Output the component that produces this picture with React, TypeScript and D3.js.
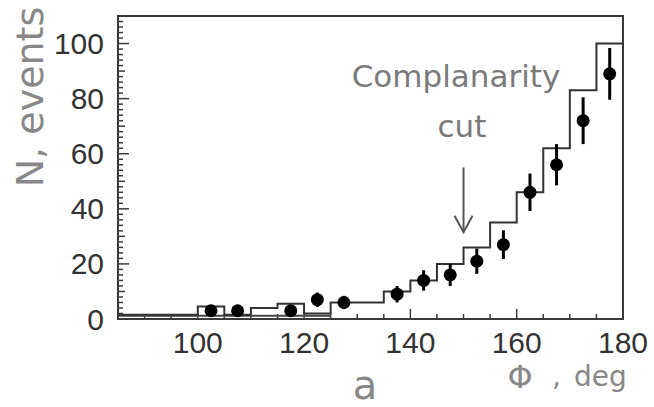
import * as d3 from 'd3';
import React from 'react';

// bin edges are 5 deg wide, from 85 to 180
const binEdges = [85, 90, 95, 100, 105, 110, 115, 120, 125, 130, 135, 140, 145, 150, 155, 160, 165, 170, 175, 180];
// simulated distribution (histogram line)
const histValues = [1.5, 1.5, 1.5, 4.5, 1.5, 4, 5.5, 2, 6, 6, 10, 14, 20, 26, 35, 46, 62, 83, 100];
// low background line near zero on the left side
const bgEdges = [85, 90, 95, 100, 105, 110, 115, 120, 125];
const bgValues = [1.2, 1.2, 1.2, 1.2, 1.2, 1.2, 1.2, 1.2];

// experimental points
const phiCenters = [102.5, 107.5, 117.5, 122.5, 127.5, 137.5, 142.5, 147.5, 152.5, 157.5, 162.5, 167.5, 172.5, 177.5];
const nEvents = [3, 3, 3, 7, 6, 9, 14, 16, 21, 27, 46, 56, 72, 89];
const nErrors = [1.7, 1.7, 1.7, 2.6, 2.4, 3, 3.7, 4, 4.6, 5.2, 6.8, 7.5, 8.5, 9.4];

const xTicks = [100, 120, 140, 160, 180];
const yTicks = [0, 20, 40, 60, 80, 100];
const cutPhi = 150;

const App = () => {
  const width = 654;
  const height = 407;

  const x = d3.scaleLinear().domain([85, 180]).range([118, 623]);
  const y = d3.scaleLinear().domain([0, 110]).range([319, 16]);

  const stepLine = d3
    .line<[number, number]>()
    .x((d) => x(d[0]))
    .y((d) => y(d[1]))
    .curve(d3.curveStepAfter);

  const histPts: [number, number][] = histValues.map((v, i) => [binEdges[i], v]);
  histPts.push([binEdges[binEdges.length - 1], histValues[histValues.length - 1]]);
  const bgPts: [number, number][] = bgValues.map((v, i) => [bgEdges[i], v]);
  bgPts.push([bgEdges[bgEdges.length - 1], bgValues[bgValues.length - 1]]);

  // minor ticks
  const xMinor = d3.range(85, 180.1, 5);
  const yMinor = d3.range(0, 110.1, 2);

  const axisColor = '#3a3a3a';
  const labelFont = "'Liberation Sans', Arial, sans-serif";
  const annFont = "'DejaVu Sans', sans-serif";

  return (
    <svg
      width={width}
      height={height}
      style={{ position: 'absolute', left: 0, top: 0, background: '#fff' }}
    >
      {/* frame */}
      <rect
        x={x(85)}
        y={y(110)}
        width={x(180) - x(85)}
        height={y(0) - y(110)}
        fill='none'
        stroke={axisColor}
        strokeWidth={2}
      />

      {/* y ticks */}
      {yMinor.map((v) => {
        const len = v % 20 === 0 ? 11 : v % 10 === 0 ? 7 : 5;
        return (
          <line key={'ym' + v} x1={x(85)} x2={x(85) + len} y1={y(v)} y2={y(v)} stroke={axisColor} strokeWidth={1.5} />
        );
      })}
      {/* x ticks */}
      {xMinor.map((v) => {
        const len = v % 20 === 0 ? 10 : 5;
        return (
          <line key={'xm' + v} x1={x(v)} x2={x(v)} y1={y(0)} y2={y(0) - len} stroke={axisColor} strokeWidth={1.5} />
        );
      })}

      {/* tick labels */}
      {yTicks.map((v) => (
        <text key={'yl' + v} x={104} y={y(v) + 10.5} textAnchor='end' fontSize={30} fontFamily={labelFont} fill='#333'>
          {v}
        </text>
      ))}
      {xTicks.map((v) => (
        <text key={'xl' + v} x={x(v)} y={353} textAnchor='middle' fontSize={30} fontFamily={labelFont} fill='#333'>
          {v}
        </text>
      ))}

      {/* histograms */}
      <path d={stepLine(bgPts) || ''} fill='none' stroke='#444' strokeWidth={2} />
      <path d={stepLine(histPts) || ''} fill='none' stroke='#333' strokeWidth={2} />

      {/* data points */}
      {phiCenters.map((p, i) => (
        <g key={'pt' + i}>
          <line
            x1={x(p)}
            x2={x(p)}
            y1={y(nEvents[i] - nErrors[i])}
            y2={y(nEvents[i] + nErrors[i])}
            stroke='#000'
            strokeWidth={3}
          />
          <circle cx={x(p)} cy={y(nEvents[i])} r={6.5} fill='#000' />
        </g>
      ))}

      {/* annotation */}
      <text x={456} y={87} textAnchor='middle' fontSize={31} fontFamily={annFont} fill='#7a7a7a'>
        Complanarity
      </text>
      <text x={462} y={137} textAnchor='middle' fontSize={31} fontFamily={annFont} fill='#7a7a7a'>
        cut
      </text>
      <line x1={x(cutPhi)} x2={x(cutPhi)} y1={y(55)} y2={y(31.5)} stroke='#555' strokeWidth={2} />
      <path
        d={`M${x(cutPhi) - 9},${y(37.5)} L${x(cutPhi)},${y(31.5)} L${x(cutPhi) + 9},${y(37.5)}`}
        fill='none'
        stroke='#555'
        strokeWidth={2}
      />

      {/* axis titles */}
      <text
        transform='translate(43,97) rotate(-90)'
        textAnchor='middle'
        fontSize={38}
        fontFamily={annFont}
        fill='#888'
      >
        N, events
      </text>
      <text fontFamily={annFont} fill='#888'>
        <tspan x={520} y={388} textAnchor='middle' fontSize={32}>
          Φ
        </tspan>
        <tspan x={552} y={386} fontSize={28}>
          ,
        </tspan>
        <tspan x={574} y={386} fontSize={28}>
          deg
        </tspan>
      </text>
      <text x={365} y={399} textAnchor='middle' fontSize={40} fontFamily={annFont} fill='#888'>
        a
      </text>
    </svg>
  );
};

export default App;
